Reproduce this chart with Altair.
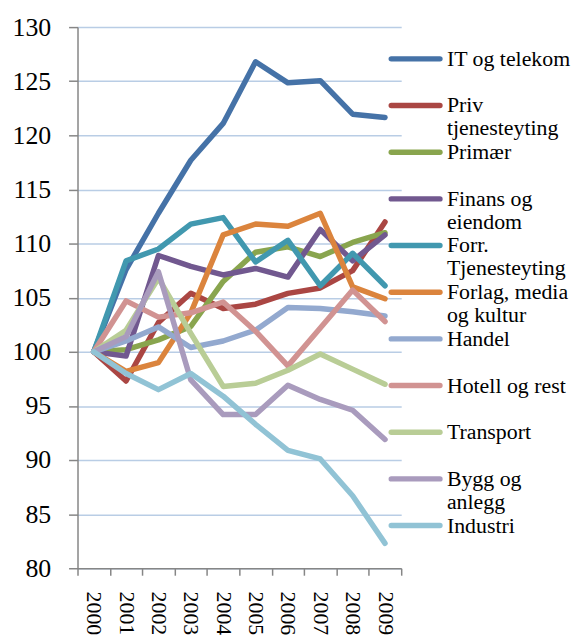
import altair as alt
import pandas as pd

years = [str(y) for y in range(2000, 2010)]

series_names = [
    "IT og telekom",
    "Priv tjenesteyting",
    "Primær",
    "Finans og eiendom",
    "Forr. Tjenesteyting",
    "Forlag, media og kultur",
    "Handel",
    "Hotell og rest",
    "Transport",
    "Bygg og anlegg",
    "Industri",
]

legend_text = [
    "IT og telekom",
    "Priv\ntjenesteyting",
    "Primær",
    "Finans og\neiendom",
    "Forr.\nTjenesteyting",
    "Forlag, media\nog kultur",
    "Handel",
    "Hotell og rest",
    "Transport",
    "Bygg og\nanlegg",
    "Industri",
]

colors = [
    "#4572A7", "#AA4643", "#89A54E", "#71588F", "#4198AF", "#DB843D",
    "#93A9CF", "#D19392", "#B9CD96", "#A99BBD", "#91C3D5",
]

it_telekom = [100, 107.6, 112.8, 117.7, 121.1, 126.8, 124.85, 125.05, 121.95, 121.65]
priv_tjen = [100, 97.3, 102.7, 105.4, 104.0, 104.4, 105.4, 105.9, 107.5, 112.0]
primaer = [100, 100.2, 101.1, 102.35, 106.5, 109.2, 109.7, 108.8, 110.1, 111.0]
finans = [100, 99.6, 108.9, 107.9, 107.1, 107.7, 106.9, 111.3, 108.4, 110.8]
forr_tjen = [100, 108.4, 109.5, 111.8, 112.4, 108.3, 110.3, 106.1, 109.1, 106.1]
forlag = [100, 98.2, 99.0, 103.6, 110.8, 111.8, 111.6, 112.8, 106.0, 104.9]
handel = [100, 101.0, 102.3, 100.4, 101.0, 102.0, 104.1, 104.0, 103.7, 103.3]
hotell = [100, 104.7, 103.2, 103.6, 104.6, 101.9, 98.7, 102.2, 105.7, 102.8]
transport = [100, 102.0, 106.8, 101.7, 96.8, 97.1, 98.3, 99.8, 98.4, 97.0]
bygg = [100, 101.4, 107.4, 97.4, 94.2, 94.2, 96.9, 95.6, 94.6, 91.9]
industri = [100, 98.0, 96.5, 98.0, 95.9, 93.3, 90.9, 90.1, 86.7, 82.3]

all_values = [it_telekom, priv_tjen, primaer, finans, forr_tjen, forlag,
              handel, hotell, transport, bygg, industri]

y_ticks = list(range(80, 131, 5))

rows = []
for name, vals in zip(series_names, all_values):
    for yr, v in zip(years, vals):
        rows.append({"serie": name, "year": yr, "value": v})
df = pd.DataFrame(rows)

legend_df = pd.DataFrame({"serie": series_names, "label": legend_text})

FONT = "Liberation Serif"
AXIS_GRAY = "#868686"

color_scale = alt.Scale(domain=series_names, range=colors)

lines = (
    alt.Chart(df)
    .mark_line(strokeWidth=5.5, strokeCap="round", strokeJoin="round")
    .encode(
        x=alt.X(
            "year:O",
            bandPosition=0.5,
            scale=alt.Scale(type="band", paddingInner=0, paddingOuter=0),
            axis=alt.Axis(
                title=None, labelAngle=90, tickBand="extent", grid=False,
                labelFont=FONT, labelFontSize=22, labelColor="black",
                labelPadding=16, tickSize=7, tickColor=AXIS_GRAY, tickWidth=1.5,
                domainColor=AXIS_GRAY, domainWidth=1.5,
            ),
        ),
        y=alt.Y(
            "value:Q",
            scale=alt.Scale(domain=[80, 130], nice=False, zero=False),
            axis=alt.Axis(
                title=None, values=y_ticks, grid=True, gridColor="#B9CDE5",
                gridWidth=1.5, labelFont=FONT, labelFontSize=26,
                labelColor="black", labelPadding=18, tickSize=9,
                tickColor=AXIS_GRAY, tickWidth=1.5, domainColor=AXIS_GRAY,
                domainWidth=1.5,
            ),
        ),
        color=alt.Color("serie:N", scale=color_scale, legend=None),
    )
)

# legend rows placed by a point scale over the series
legend_y = alt.Y(
    "serie:N",
    scale=alt.Scale(type="point", domain=series_names, range=[32, 502], padding=0),
    axis=None,
)

legend_symbols = (
    alt.Chart(legend_df)
    .mark_rule(strokeWidth=5.5, strokeCap="round")
    .encode(
        x=alt.value(316),
        x2=alt.value(365),
        y=legend_y,
        color=alt.Color("serie:N", scale=color_scale, legend=None),
    )
)

legend_labels = (
    alt.Chart(legend_df)
    .mark_text(align="left", baseline="middle", font=FONT, fontSize=22,
               lineBreak="\n", lineHeight=23, color="black")
    .encode(
        x=alt.value(372),
        y=legend_y,
        text="label:N",
    )
)

chart = (
    alt.layer(lines, legend_symbols, legend_labels)
    .resolve_scale(y="independent")
    .properties(width=326, height=545, padding={"left": 4, "top": 4, "right": 0, "bottom": 0})
    .configure_view(stroke=None)
)

chart.save("out.html", embed_options={"renderer": "svg", "actions": False})
